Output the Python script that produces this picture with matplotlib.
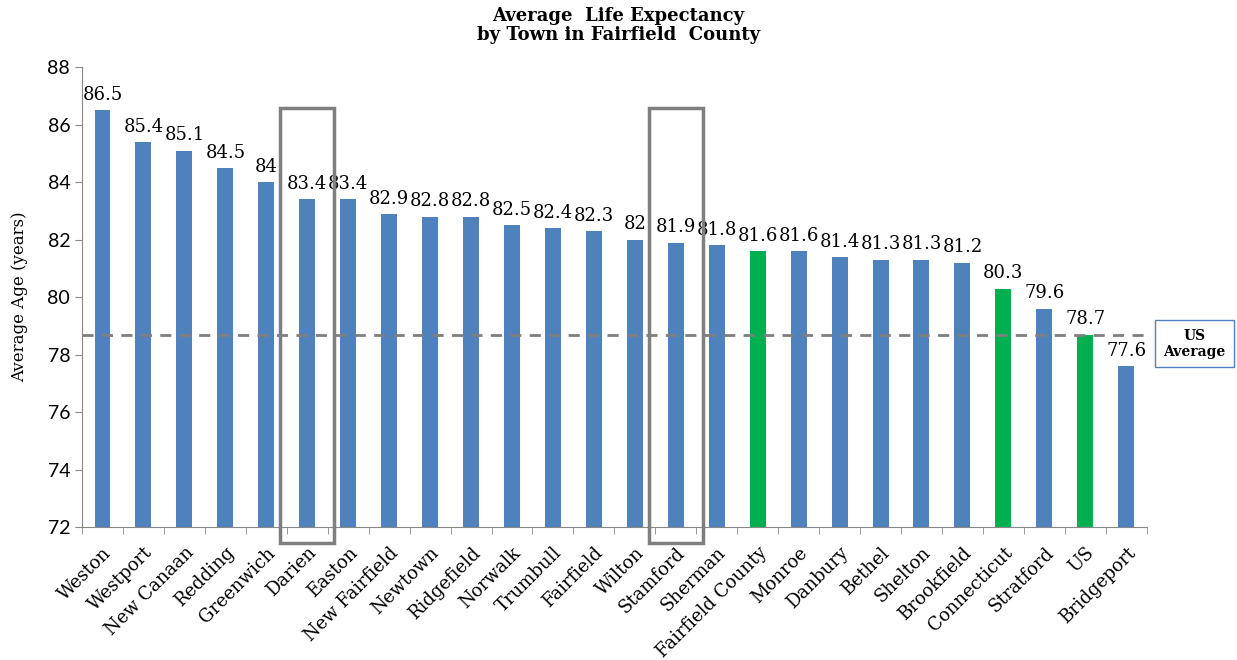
import matplotlib
matplotlib.use("Agg")
import matplotlib.pyplot as plt
from matplotlib.patches import Rectangle
import numpy as np

towns = ["Weston", "Westport", "New Canaan", "Redding", "Greenwich", "Darien", "Easton",
         "New Fairfield", "Newtown", "Ridgefield", "Norwalk", "Trumbull", "Fairfield",
         "Wilton", "Stamford", "Sherman", "Fairfield County", "Monroe", "Danbury", "Bethel",
         "Shelton", "Brookfield", "Connecticut", "Stratford", "US", "Bridgeport"]
ages = [86.5, 85.4, 85.1, 84.5, 84, 83.4, 83.4, 82.9, 82.8, 82.8, 82.5, 82.4, 82.3,
        82, 81.9, 81.8, 81.6, 81.6, 81.4, 81.3, 81.3, 81.2, 80.3, 79.6, 78.7, 77.6]
aggregates = ["Fairfield County", "Connecticut", "US"]
highlighted = ["Darien", "Stamford"]
us_average = 78.7

blue = "#4F81BD"
green = "#00B050"
serif = ["DejaVu Serif"]

fig = plt.figure(figsize=(12.37, 6.6), dpi=100)
ax = fig.add_axes([0.0663, 0.2015, 0.8607, 0.6965])

x = np.arange(len(towns))
colors = [green if t in aggregates else blue for t in towns]
ax.bar(x, ages, width=0.39, color=colors, zorder=2)

ax.set_ylim(72, 88)
ax.set_xlim(-0.5, len(towns) - 0.5)
ax.set_yticks(np.arange(72, 89, 2))
ax.tick_params(axis="y", labelsize=14, length=5, color="#888888", direction="out")
for lbl in ax.get_yticklabels():
    lbl.set_family(["Lato", "DejaVu Sans"])

ax.set_xticks(x)
ax.set_xticklabels(towns, rotation=45, ha="right", rotation_mode="anchor",
                   fontsize=13, family=serif)
ax.tick_params(axis="x", length=0, pad=12)
ax.set_xticks(np.arange(-0.5, len(towns), 1), minor=True)
ax.tick_params(axis="x", which="minor", length=5, color="#888888")

for s in ["top", "right"]:
    ax.spines[s].set_visible(False)
for s in ["left", "bottom"]:
    ax.spines[s].set_color("#888888")

ax.set_ylabel("Average Age (years)", fontsize=12, family=serif, labelpad=14)

for xi, v in zip(x, ages):
    ax.text(xi, v + 0.22, f"{v:g}", ha="center", va="bottom", fontsize=13, family=serif)

ax.axhline(us_average, color="#7F7F7F", lw=2, ls=(0, (4, 3)), zorder=3, clip_on=False)

for name in highlighted:
    i = towns.index(name)
    ax.add_patch(Rectangle((i - 0.66, 71.44), 1.32, 86.6 - 71.44, fill=False,
                           edgecolor="#7F7F7F", lw=2.5, clip_on=False, zorder=4))

fig.text(0.9655, 0.479, "US\nAverage", ha="center", va="center", fontsize=10,
         fontweight="bold", family=serif,
         bbox=dict(boxstyle="square,pad=0.6", fc="white", ec="#4F81BD", lw=1))

fig.suptitle("Average  Life Expectancy\nby Town in Fairfield  County", y=0.99,
             fontsize=13, fontweight="bold", family=serif, linespacing=1.1)

fig.savefig("out.png", dpi=100)
